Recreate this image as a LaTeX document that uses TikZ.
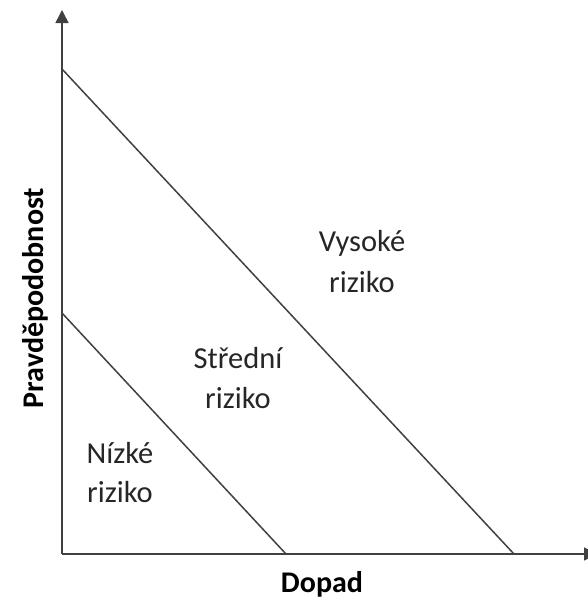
\documentclass[tikz,border=0pt]{standalone}
\usepackage{fontspec}
\setmainfont{Carlito}
\usetikzlibrary{arrows.meta}
\begin{document}
\begin{tikzpicture}[x=1pt,y=-1pt,
  axis/.style={draw=black!75,line width=1.5pt,-{Triangle[length=13pt,width=13pt]}},
  riskline/.style={draw=black!75,line width=1.5pt},
  lbl/.style={font=\fontsize{30.5}{36}\selectfont,align=center,anchor=base,inner sep=0pt,text=black!85},
  axlbl/.style={font=\fontsize{30}{36}\selectfont\bfseries,inner sep=0pt}]
\useasboundingbox (0,0) rectangle (587,600);
\coordinate (o) at (62,554);
\coordinate (ytop) at (62,10);
\coordinate (xend) at (597,554);
\coordinate (h1) at (62,69);
\coordinate (h2) at (514,554);
\coordinate (l1) at (62,313);
\coordinate (l2) at (286,554);
\draw[axis] (o) -- (ytop);
\draw[axis] (o) -- (xend);
\draw[riskline] (h1) -- (h2);
\draw[riskline] (l1) -- (l2);
\node[lbl] (vys) at (362,292) {Vysoké\\[5pt]riziko};
\node[lbl] (str) at (238,408) {Střední\\[4pt]riziko};
\node[lbl] (niz) at (120,502) {Nízké\\[3pt]riziko};
\node[axlbl,anchor=base] (dop) at (322,592) {Dopad};
\node[axlbl,anchor=base,rotate=90] (prav) at (43,298) {Pravděpodobnost};
\end{tikzpicture}
\end{document}
